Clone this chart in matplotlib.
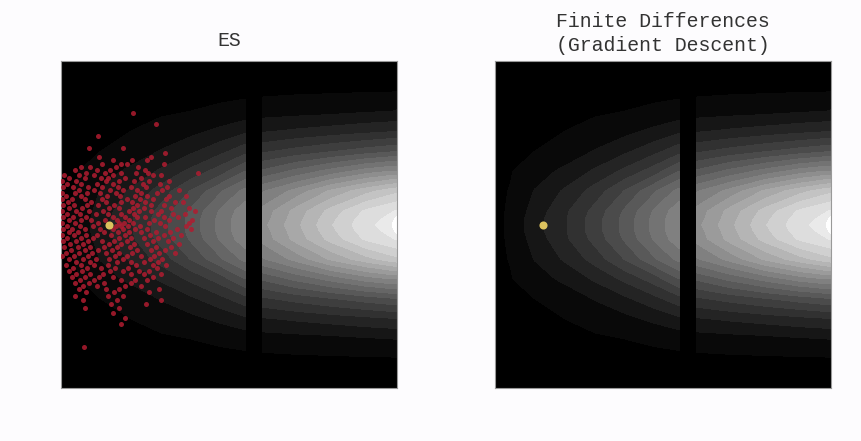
import matplotlib
matplotlib.use('Agg')
import numpy as np
import matplotlib.pyplot as plt

grid_x = [0, 15, 40, 70, 100, 130, 160, 184, 185, 201, 202, 235, 270, 305, 330, 336]
grid_y = [0, 30, 50, 70, 90, 110, 130, 150, 158, 164, 170, 178, 198, 218, 238, 258, 278, 297, 327]
brightness = [
    [0, 0, 0, 0, 0, 0, 0, 0, 0, 0, 0, 0, 0, 0, 0, 0],
    [0, 0, 0, 0, 0, 0, 0, 0, 0, 0, 0, 0.004, 0.006, 0.008, 0.009, 0.01],
    [0, 0, 0, 0, 0.004, 0.012, 0.02, 0.03, 0, 0, 0.04, 0.045, 0.05, 0.06, 0.065, 0.07],
    [0, 0, 0.002, 0.012, 0.03, 0.05, 0.08, 0.11, 0, 0, 0.115, 0.13, 0.145, 0.16, 0.17, 0.17],
    [0, 0, 0.012, 0.03, 0.07, 0.11, 0.16, 0.21, 0, 0, 0.22, 0.25, 0.28, 0.31, 0.33, 0.33],
    [0, 0.008, 0.04, 0.08, 0.13, 0.19, 0.26, 0.34, 0, 0, 0.35, 0.41, 0.47, 0.53, 0.56, 0.56],
    [0, 0.014, 0.07, 0.13, 0.20, 0.29, 0.39, 0.47, 0, 0, 0.50, 0.58, 0.68, 0.76, 0.81, 0.82],
    [0, 0.018, 0.09, 0.165, 0.25, 0.35, 0.46, 0.54, 0, 0, 0.58, 0.69, 0.80, 0.90, 0.94, 0.95],
    [0, 0.02, 0.10, 0.17, 0.26, 0.36, 0.47, 0.55, 0, 0, 0.59, 0.70, 0.82, 0.92, 0.96, 1.03],
    [0, 0.02, 0.10, 0.17, 0.26, 0.36, 0.47, 0.55, 0, 0, 0.60, 0.71, 0.83, 0.93, 0.97, 1.12],
    [0, 0.02, 0.10, 0.17, 0.26, 0.36, 0.47, 0.55, 0, 0, 0.59, 0.70, 0.82, 0.92, 0.96, 1.03],
    [0, 0.018, 0.09, 0.165, 0.25, 0.35, 0.46, 0.54, 0, 0, 0.58, 0.69, 0.80, 0.90, 0.94, 0.95],
    [0, 0.014, 0.07, 0.13, 0.20, 0.29, 0.39, 0.47, 0, 0, 0.50, 0.58, 0.68, 0.76, 0.81, 0.82],
    [0, 0.008, 0.04, 0.08, 0.13, 0.19, 0.26, 0.34, 0, 0, 0.35, 0.41, 0.47, 0.53, 0.56, 0.56],
    [0, 0, 0.012, 0.03, 0.07, 0.11, 0.16, 0.21, 0, 0, 0.22, 0.25, 0.28, 0.31, 0.33, 0.33],
    [0, 0, 0.002, 0.012, 0.03, 0.05, 0.08, 0.11, 0, 0, 0.115, 0.13, 0.145, 0.16, 0.17, 0.17],
    [0, 0, 0, 0, 0.004, 0.012, 0.02, 0.03, 0, 0, 0.04, 0.045, 0.05, 0.06, 0.065, 0.07],
    [0, 0, 0, 0, 0, 0, 0, 0, 0, 0, 0, 0.004, 0.006, 0.008, 0.009, 0.01],
    [0, 0, 0, 0, 0, 0, 0, 0, 0, 0, 0, 0, 0, 0, 0, 0],
]

# evolution strategy samples, read blob by blob from the left panel: (y, x values on that line)
es_rows = [
    (52, [72]), (63, [95]), (75, [37]), (87, [28, 62]), (92, [104]), (96, [38, 90]),
    (99, [52, 71, 86]), (103, [41, 60, 66, 103]), (106, [20, 29, 55, 77]),
    (109, [14, 36, 49, 84]), (112, [25, 44, 60, 75, 87, 137]), (114, [3, 18, 33, 52, 92, 100]),
    (117, [8, 24, 40, 47, 64, 80]), (120, [1, 15, 45, 58, 73, 88, 108]),
    (123, [6, 20, 36, 52, 82, 99]), (126, [2, 12, 27, 41, 57, 70, 85, 106]),
    (129, [18, 33, 49, 62, 76, 101, 118]), (132, [1, 14, 26, 39, 55, 80, 96]),
    (135, [5, 20, 46, 59, 74, 86, 108, 125]), (138, [1, 11, 24, 41, 66, 79, 92, 105]),
    (141, [7, 30, 45, 60, 71, 84, 114, 122]), (144, [2, 13, 26, 37, 53, 76, 90, 103]),
    (147, [8, 21, 48, 58, 72, 83, 110, 128]), (150, [1, 15, 28, 42, 68, 78, 90, 100, 134]),
    (153, [6, 19, 35, 47, 60, 73, 97, 112, 124]), (156, [2, 12, 25, 52, 64, 76, 84, 103, 117]),
    (159, [8, 20, 30, 44, 56, 68, 93, 108, 131]), (162, [1, 14, 37, 58, 63, 72, 88, 99, 128]),
    (165, [6, 19, 32, 55, 60, 67, 79, 104, 125]), (168, [2, 11, 24, 39, 52, 62, 74, 86, 116, 130]),
    (171, [8, 17, 43, 57, 68, 80, 95, 109]), (174, [1, 13, 25, 36, 50, 64, 89, 103, 120]),
    (177, [6, 20, 32, 58, 70, 83, 97, 112]), (180, [2, 15, 27, 41, 53, 66, 92, 107]),
    (183, [9, 22, 48, 60, 73, 86, 118]), (186, [3, 17, 29, 43, 56, 69, 95, 110]),
    (189, [10, 24, 37, 51, 76, 90, 104]), (192, [5, 18, 31, 45, 58, 71, 98, 114]),
    (195, [1, 13, 27, 54, 66, 80, 93]), (198, [8, 22, 35, 48, 62, 89, 101]),
    (201, [15, 29, 56, 70, 83, 97]), (204, [5, 20, 33, 47, 75, 92, 105]),
    (207, [12, 26, 40, 54, 67, 96]), (210, [8, 21, 49, 62, 78, 88]),
    (213, [15, 29, 42, 70, 83, 100]), (216, [11, 24, 38, 52, 92]),
    (219, [19, 33, 60, 74, 86]), (222, [14, 28, 43, 70]), (225, [22, 36, 64, 80]),
    (228, [18, 45, 58, 98]), (231, [25, 53, 88]), (235, [14, 47, 62]),
    (239, [22, 56, 100]), (243, [50, 85]), (247, [24, 58]),
    (252, [52]), (257, [64]), (263, [60]), (286, [23]),
]
es_x = [x for y, xs in es_rows for x in xs]
es_y = [y for y, xs in es_rows for x in xs]
best_x = [48]
best_y = [164]

levels = np.linspace(0.012, 1.0, 19)
titles = ['ES', 'Finite Differences\n(Gradient Descent)']
title_pad = [11, 7]
panel_left = [61, 495]
W, H = 861, 441

fig = plt.figure(figsize=(W / 100, H / 100), dpi=100, facecolor='#fdfcfe')
for i in range(2):
    ax = fig.add_axes([panel_left[i] / W, (H - 388) / H, 336 / W, 327 / H], facecolor='black')
    cs = ax.contourf(grid_x, grid_y, np.array(brightness), levels=levels, cmap='gray', vmin=0, vmax=1.06,
                     extend='max', antialiased=False)
    cs.cmap.set_over('white')
    if i == 0:
        ax.scatter(es_x, es_y, s=13, color='#b01c30', alpha=0.85, linewidths=0, zorder=3)
    ax.scatter(best_x, best_y, s=34, color='#dcc25e', linewidths=0, zorder=4)
    ax.set_xlim(0, 336)
    ax.set_ylim(327, 0)
    ax.set_xticks([])
    ax.set_yticks([])
    for s in ax.spines.values():
        s.set_color('#999999')
        s.set_linewidth(0.8)
    ax.set_title(titles[i], family=['Liberation Mono', 'DejaVu Sans Mono'], fontsize=14.3, color='#333333',
                 pad=title_pad[i], linespacing=1.35)

fig.savefig('out.png', dpi=100, facecolor=fig.get_facecolor())
